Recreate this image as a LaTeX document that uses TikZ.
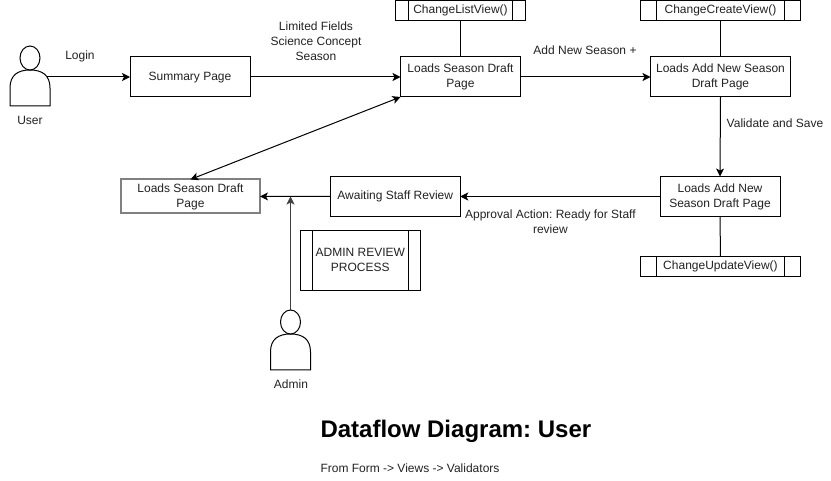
\documentclass[tikz,border=0pt]{standalone}
\usepackage{fontspec}
\setmainfont{Liberation Sans}
\usetikzlibrary{arrows.meta}
\frenchspacing
\definecolor{ink}{HTML}{000000}
\definecolor{txt}{HTML}{222222}
\definecolor{edgegray}{HTML}{808080}
\newcommand{\tl}{\rule[-2.5pt]{0pt}{11.5pt}}
\tikzset{
  x=1pt,y=-1pt,
  every node/.style={font=\fontsize{12}{15}\selectfont,text=txt,inner sep=0pt,outer sep=0pt,align=center},
  flowbox/.style={draw=ink,line width=1pt,fill=white,minimum width=#1,minimum height=40},
  flowbox/.default=120,
  grayframe/.style={draw=edgegray,line width=2pt,fill=white,minimum width=139,minimum height=34},
  subproc/.style={draw=ink,line width=1pt,fill=white,minimum width=#1,minimum height=20},
  actorslot/.style={minimum width=40,minimum height=60},
  link/.style={draw=ink,line width=1pt},
  flow/.style={link,-{Stealth[length=8pt,width=8pt,inset=2pt]}},
  bothflow/.style={link,{Stealth[length=8pt,width=8pt,inset=2pt]}-{Stealth[length=8pt,width=8pt,inset=2pt]}},
  actorline/.style={draw=ink,line width=1pt,fill=white}
}
\newcommand{\actorshape}[2]{%
  \draw[actorline] (#1-20,#2+30) -- (#1-20,#2+12)
    .. controls (#1-20,#2-1) and (#1-12,#2-6) .. (#1,#2-6)
    .. controls (#1+12,#2-6) and (#1+20,#2-1) .. (#1+20,#2+12)
    -- (#1+20,#2+30) -- cycle;
  \draw[actorline] (#1,#2-18) ellipse [x radius=10,y radius=12];
}
\begin{document}
\begin{tikzpicture}
\useasboundingbox (0,0) rectangle (831,481);
\node[actorslot] (user) at (30,76) {};
\node[actorslot] (admin) at (290.5,340) {};
\node[flowbox] (summary) at (190,77) {\tl Summary Page};
\node[flowbox] (draft) at (460.5,77) {\tl Loads Season Draft\\\tl Page};
\node[flowbox=140] (addnew) at (720.5,77) {\tl Loads Add New Season\\\tl Draft Page};
\node[flowbox] (addnewb) at (720,196.5) {\tl Loads Add New\\\tl Season Draft Page};
\node[flowbox=130] (await) at (395.25,196.5) {\tl Awaiting Staff Review};
\node[grayframe] (final) at (190.5,196.4) {\tl Loads Season Draft\\\tl Page};
\node[subproc=130] (listv) at (460.5,10.5) {\tl ChangeListView()};
\node[subproc=160] (createv) at (720.5,10.5) {\tl ChangeCreateView()};
\node[subproc=160] (updatev) at (720.5,266.5) {\tl ChangeUpdateView()};
\node[flowbox,minimum height=60] (review) at (360.3,260.3) {\tl ADMIN REVIEW\\\tl PROCESS};
\draw[link] (408.3,0.5) -- (408.3,20.5);
\draw[link] (512.6,0.5) -- (512.6,20.5);
\draw[link] (656.5,0.5) -- (656.5,20.5);
\draw[link] (784.5,0.5) -- (784.5,20.5);
\draw[link] (656.5,256.5) -- (656.5,276.5);
\draw[link] (784.5,256.5) -- (784.5,276.5);
\draw[link] (312.3,230.3) -- (312.3,290.3);
\draw[link] (408.3,230.3) -- (408.3,290.3);
\coordinate (join) at (290.5,196.5);
\draw[flow] (user.east) ++(-3,1) -- (summary.west);
\draw[flow] (summary.east) -- (draft.west);
\draw[flow] (draft.east) -- (addnew.west);
\draw[flow] (addnew.south) -- (addnewb.north);
\draw[flow] (addnewb.west) -- (await.east);
\draw[flow] (await.west) -- (final.east);
\draw[bothflow] (draft.south west) -- (final.north);
\draw[link] (listv.south) -- (draft.north);
\draw[link] (createv.south) -- (addnew.north);
\draw[link] (addnewb.south) -- (updatev.north);
\draw[flow,draw=ink!75] (admin.north) -- (join);
\actorshape{30}{76}
\actorshape{290.5}{340}
\node (userlab) at (30,121.5) {\tl User};
\node (adminlab) at (291,384.8) {\tl Admin};
\node (loginlab) at (80,56.5) {\tl Login};
\node (limlab) at (316,42.5) {\tl Limited Fields\\\tl Science Concept\\\tl Season};
\node (addlab) at (585,50.8) {\tl Add New Season +};
\node (vallab) at (775,124.5) {\tl Validate and Save};
\node (applab) at (550.4,222.5) {\tl Approval Action: Ready for Staff\\\tl review};
\node[font=\fontsize{24}{28}\selectfont\bfseries,text=black,anchor=base west] (title) at (320.5,438) {Dataflow Diagram: User};
\node[anchor=base west] (sub) at (320.5,472) {From Form -> Views -> Validators};
\end{tikzpicture}
\end{document}
